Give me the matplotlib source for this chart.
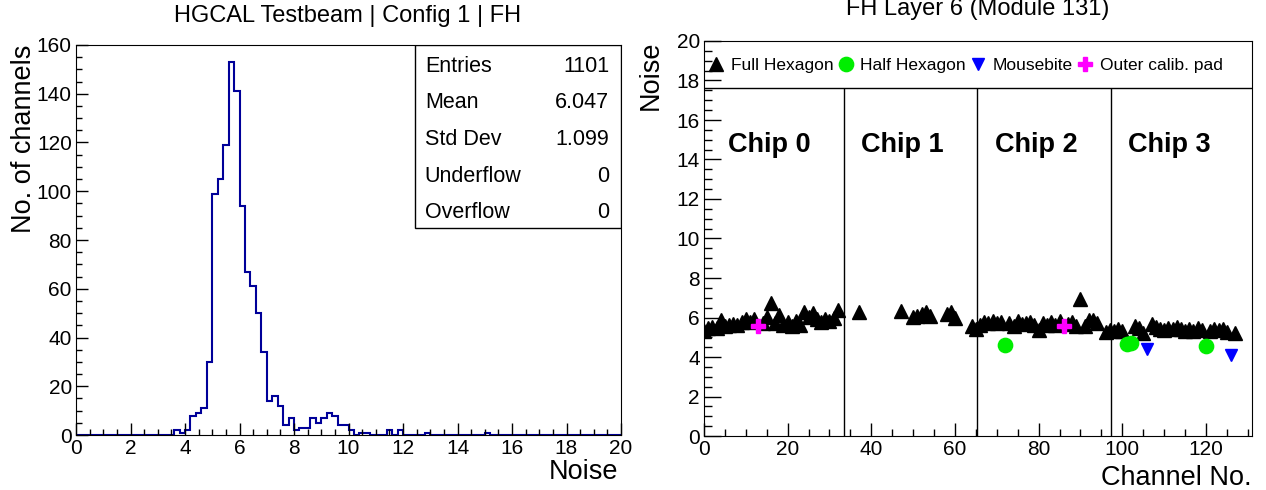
import matplotlib
matplotlib.use('Agg')
import matplotlib.pyplot as plt
from matplotlib.patches import Rectangle
from matplotlib.ticker import MultipleLocator
import numpy as np

plt.rcParams['font.family'] = ['Liberation Sans', 'DejaVu Sans']

# noise histogram, 100 bins of 0.2 from 0 to 20
bin_edges = np.linspace(0, 20, 101)
counts = [
    0, 0, 0, 0, 0, 0, 0, 0, 0, 0,
    0, 0, 0, 0, 0, 0, 0, 0, 2, 1,
    2, 8, 9, 11, 30, 99, 105, 119, 153, 141,
    94, 67, 61, 50, 34, 14, 16, 12, 4, 7,
    2, 3, 3, 7, 5, 7, 9, 8, 4, 4,
    2, 0, 1, 1, 0, 0, 0, 2, 0, 2,
    0, 0, 0, 0, 1, 0, 0, 0, 0, 0,
    0, 0, 0, 0, 0, 1, 0, 0, 0, 0,
    0, 0, 0, 0, 0, 0, 0, 0, 0, 0,
    0, 0, 0, 0, 0, 0, 0, 0, 0, 0,
]
stats_labels = ['Entries', 'Mean', 'Std Dev', 'Underflow', 'Overflow']
stats_values = ['1101', '6.047', '1.099', '0', '0']

# noise per channel, module 131
full_ch = [0, 1, 2, 3, 4, 5, 6, 7, 8, 9, 10, 11, 12, 14, 15, 16, 17, 18, 19, 20,
           21, 22, 23, 24, 25, 26, 27, 28, 29, 30, 31, 32,
           37, 47, 50, 51, 52, 53, 54, 58, 59, 60, 64,
           65, 66, 67, 68, 69, 70, 71, 73, 74, 75, 76, 77, 78, 79, 80, 81, 82, 83,
           84, 85, 87, 88, 89, 90, 91, 92, 93, 94, 96, 97,
           98, 99, 100, 103, 104, 105, 107, 108, 109, 110, 111, 112, 113, 114, 115,
           116, 117, 118, 119, 121, 122, 123, 124, 125, 127]
full_noise = [5.3, 5.45, 5.5, 5.45, 5.85, 5.55, 5.6, 5.65, 5.6, 5.75, 5.9, 5.75, 5.9, 5.7, 6.05, 6.75, 5.7, 6.15, 5.6, 5.75,
              5.55, 5.8, 5.6, 6.3, 6.05, 6.25, 5.9, 5.75, 5.9, 5.8, 6.0, 6.4,
              6.3, 6.35, 6.05, 6.1, 6.2, 6.3, 6.1, 6.2, 6.3, 6.0, 5.55,
              5.4, 5.6, 5.75, 5.7, 5.8, 5.7, 5.75, 5.7, 5.55, 5.8, 5.65, 5.7, 5.75, 5.6, 5.35, 5.7, 5.6, 5.75,
              5.6, 5.8, 5.65, 5.75, 5.55, 6.95, 5.55, 5.85, 5.85, 5.7, 5.25, 5.35,
              5.3, 5.4, 5.3, 5.55, 5.45, 5.2, 5.65, 5.5, 5.4, 5.35, 5.45, 5.4, 5.5, 5.4, 5.3,
              5.4, 5.3, 5.45, 5.35, 5.3, 5.4, 5.35, 5.4, 5.25, 5.2]
half_ch = [72, 101, 102, 120]
half_noise = [4.6, 4.65, 4.7, 4.55]
mouse_ch = [106, 126]
mouse_noise = [4.4, 4.1]
calib_ch = [13, 86]
calib_noise = [5.55, 5.55]

chip_edges = [33.4, 65.3, 97.2]
chip_names = ['Chip 0', 'Chip 1', 'Chip 2', 'Chip 3']
chip_text_x = [15.5, 47.5, 79.5, 111.3]

W, H = 1266, 490


def box(x0, y0, x1, y1):
    return [x0 / W, 1 - y1 / H, (x1 - x0) / W, (y1 - y0) / H]


fig = plt.figure(figsize=(W / 100, H / 100), dpi=100)

# ---- left: histogram
ax1 = fig.add_axes(box(76, 45, 621, 435))
ax1.stairs(counts, bin_edges, color='#000099', lw=1.5)
ax1.set_xlim(0, 20)
ax1.set_ylim(0, 160)
ax1.xaxis.set_major_locator(MultipleLocator(2))
ax1.xaxis.set_minor_locator(MultipleLocator(0.5))
ax1.yaxis.set_major_locator(MultipleLocator(20))
ax1.yaxis.set_minor_locator(MultipleLocator(5))
ax1.tick_params(which='both', direction='in', top=False, right=False, labelsize=15, width=1)
ax1.tick_params(which='major', length=8.6, pad=3)
ax1.tick_params(which='minor', length=4.3)

# stats box
ax1.add_patch(Rectangle((0.622, 0.532), 0.378, 0.468, transform=ax1.transAxes,
                        facecolor='white', edgecolor='black', lw=1, zorder=5))
for i, (lab, val) in enumerate(zip(stats_labels, stats_values)):
    yy = 0.946 - i * 0.094
    ax1.text(0.640, yy, lab, transform=ax1.transAxes, ha='left', va='center', fontsize=15.5, zorder=6)
    ax1.text(0.978, yy, val, transform=ax1.transAxes, ha='right', va='center', fontsize=15.5, zorder=6)

fig.text(348 / W, 1 - 22 / H, 'HGCAL Testbeam | Config 1 | FH', ha='center', va='baseline', fontsize=17)
fig.text(24 / W, 1 - 45 / H, 'No. of channels', rotation=90, ha='center', va='top', fontsize=19.5)
fig.text(618 / W, 1 - 479 / H, 'Noise', ha='right', va='baseline', fontsize=19.5)

# ---- right: noise vs channel
ax2 = fig.add_axes(box(704, 41, 1252, 436))
ax2.plot(full_ch, full_noise, '^', color='black', ms=9.4, ls='none', label='Full Hexagon')
ax2.plot(half_ch, half_noise, 'o', color='#00ee00', ms=10.3, ls='none', label='Half Hexagon')
ax2.plot(mouse_ch, mouse_noise, 'v', color='#0000ff', ms=9.1, ls='none', label='Mousebite')
ax2.plot(calib_ch, calib_noise, 'P', color='#ff00ff', ms=10, ls='none', label='Outer calib. pad')

legend_bottom = 17.62
ax2.axhline(legend_bottom, color='black', lw=1)
ax2.vlines(chip_edges, 0, legend_bottom, color='black', lw=1)
for x, name in zip(chip_text_x, chip_names):
    ax2.text(x, 14.75, name, ha='center', va='center', fontsize=19.5, fontweight='bold')

ax2.legend(loc='center left', bbox_to_anchor=(0.0, 0.937), ncol=4, frameon=False, fontsize=12.5,
           handlelength=0.8, handletextpad=0.45, columnspacing=0.3, borderaxespad=0, borderpad=0.3)

ax2.set_xlim(0, 131)
ax2.set_ylim(0, 20)
ax2.xaxis.set_major_locator(MultipleLocator(20))
ax2.xaxis.set_minor_locator(MultipleLocator(5))
ax2.yaxis.set_major_locator(MultipleLocator(2))
ax2.yaxis.set_minor_locator(MultipleLocator(0.5))
ax2.tick_params(which='both', direction='in', top=False, right=False, labelsize=15, width=1)
ax2.tick_params(axis='x', which='major', length=9.4, pad=3)
ax2.tick_params(axis='x', which='minor', length=4.7)
ax2.tick_params(axis='y', which='major', length=12, pad=3)
ax2.tick_params(axis='y', which='minor', length=5.8)

fig.text(978 / W, 1 - 15 / H, 'FH Layer 6 (Module 131)', ha='center', va='baseline', fontsize=17)
fig.text(651 / W, 1 - 41 / H, 'Noise', rotation=90, ha='center', va='top', fontsize=19.5)
fig.text(1252 / W, 1 - 485 / H, 'Channel No.', ha='right', va='baseline', fontsize=19.5)

fig.savefig('out.png', dpi=100)
